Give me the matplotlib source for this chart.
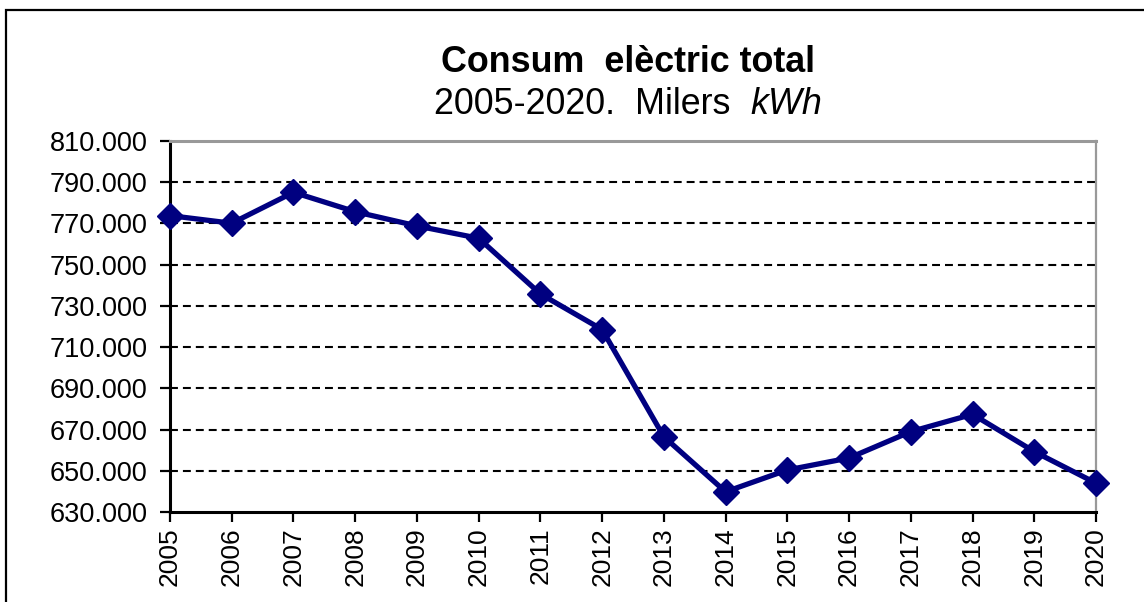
import matplotlib
matplotlib.use("Agg")
import matplotlib.pyplot as plt
from matplotlib.patches import Rectangle
from matplotlib.ticker import FuncFormatter

plt.rcParams['font.family'] = ['Liberation Sans', 'DejaVu Sans']

years = list(range(2005, 2021))
consum = [773.8, 770.1, 785.1, 775.7, 768.8, 762.8, 735.8, 718.5,
          666.5, 639.8, 650.4, 656.2, 669.0, 677.4, 659.3, 644.0]
y_ticks = list(range(630, 811, 20))

W, H, DPI = 1144, 602, 100
fig = plt.figure(figsize=(W / DPI, H / DPI), dpi=DPI)
ax = fig.add_axes([170 / W, 1 - 512 / H, (1096 - 170) / W, (512 - 141) / H])

# outer frame (only left and top visible in reference)
fig.patches.append(Rectangle((6 / W, -0.1), 1.2, 1 - 9.5 / H + 0.1, transform=fig.transFigure,
                             fill=False, edgecolor='black', linewidth=1.6, clip_on=False))

ax.set_xlim(2005, 2020)
ax.set_ylim(630, 810)
for yv in y_ticks[1:-1]:
    ax.axhline(yv, color='black', linewidth=1.5, dashes=(3.8, 2.4), zorder=1)

ax.plot(years, consum, color='#000080', linewidth=3.8, marker='D', markersize=13,
        zorder=3, clip_on=False)

ax.set_xticks(years)
ax.set_xticklabels([str(y) for y in years], rotation=90, fontsize=19)
ax.set_yticks(y_ticks)
ax.yaxis.set_major_formatter(FuncFormatter(lambda v, p: f"{int(v)}.000"))
ax.tick_params(axis='y', labelsize=19.5, length=7, width=1.6, direction='out', pad=9)
ax.tick_params(axis='x', length=7, width=1.6, direction='out', pad=4)

ax.spines['left'].set_linewidth(2.2)
ax.spines['bottom'].set_linewidth(2.2)
ax.spines['top'].set_color('#999999')
ax.spines['top'].set_linewidth(2.2)
ax.spines['right'].set_color('#999999')
ax.spines['right'].set_linewidth(1.6)

fig.text(628 / W, 1 - 63 / H, "Consum  elèctric total", ha='center', va='center',
         fontsize=25.8, fontweight='bold')

# subtitle with italic kWh
fig.canvas.draw()
r = fig.canvas.get_renderer()
t1 = fig.text(0, 1 - 105 / H, "2005-2020.  Milers  ", ha='left', va='center', fontsize=25.8)
t2 = fig.text(0, 1 - 105 / H, "kWh", ha='left', va='center', fontsize=25.8, style='italic')
w1 = t1.get_window_extent(r).width
w2 = t2.get_window_extent(r).width
x0 = 628 - (w1 + w2) / 2
t1.set_x(x0 / W)
t2.set_x((x0 + w1) / W)

fig.savefig("out.png", dpi=DPI)
